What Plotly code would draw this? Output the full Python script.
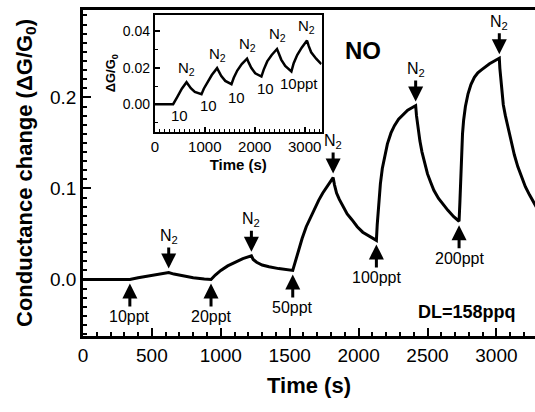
import numpy as np
import plotly.graph_objects as go

# ---- main trace (time s, conductance change) ----
time_main = [0, 340, 400, 480, 560, 622, 660, 720, 800, 880, 929,
             960, 1000, 1050, 1100, 1160, 1222, 1235, 1260, 1300, 1350, 1420, 1522,
             1540, 1560, 1590, 1620, 1650, 1680, 1710, 1740, 1770, 1800, 1815,
             1825, 1840, 1860, 1890, 1917, 1950, 1990, 2030, 2080, 2129,
             2135, 2145, 2158, 2172, 2190, 2209, 2235, 2260, 2290, 2320, 2356, 2390, 2414,
             2420, 2430, 2445, 2460, 2473, 2500, 2525, 2546, 2580, 2620, 2648, 2690, 2729,
             2735, 2742, 2748, 2754, 2762, 2775, 2794, 2815, 2840, 2865, 2889, 2920, 2950, 2985, 3021,
             3025, 3032, 3040, 3050, 3065, 3084, 3105, 3130, 3155, 3182, 3210, 3240, 3270, 3292]
cond_main = [0.0, 0.0, 0.002, 0.004, 0.006, 0.0077, 0.006, 0.004, 0.002, 0.0005, 0.0,
             0.005, 0.010, 0.015, 0.019, 0.023, 0.026, 0.022, 0.019, 0.016, 0.014, 0.012, 0.010,
             0.020, 0.031, 0.045, 0.058, 0.068, 0.078, 0.087, 0.095, 0.102, 0.108, 0.112,
             0.104, 0.095, 0.088, 0.079, 0.072, 0.066, 0.058, 0.052, 0.047, 0.043,
             0.060, 0.082, 0.105, 0.122, 0.137, 0.149, 0.161, 0.169, 0.176, 0.181, 0.186, 0.189, 0.191,
             0.180, 0.167, 0.152, 0.140, 0.131, 0.116, 0.106, 0.098, 0.089, 0.081, 0.076, 0.069, 0.064,
             0.085, 0.115, 0.140, 0.160, 0.175, 0.190, 0.204, 0.214, 0.222, 0.227, 0.230, 0.234, 0.237, 0.240, 0.243,
             0.232, 0.218, 0.204, 0.192, 0.180, 0.167, 0.152, 0.137, 0.124, 0.112, 0.102, 0.093, 0.085, 0.079]

ppt_times = [340, 929, 1522, 2129, 2729]
ppt_labels = ["10ppt", "20ppt", "50ppt", "100ppt", "200ppt"]
n2_times = [622, 1222, 1815, 2414, 3021]

# ---- inset trace ----
time_inset = [0, 366, 450, 540, 634, 670, 720, 800, 934, 980, 1050, 1140, 1246, 1280, 1330, 1410, 1534,
              1580, 1650, 1740, 1846, 1880, 1930, 2010, 2134, 2180, 2250, 2340, 2446, 2480, 2530, 2610, 2734,
              2780, 2850, 2940, 3046, 3080, 3130, 3230, 3334]
cond_inset = [0.0, 0.0, 0.004, 0.0085, 0.0121, 0.0105, 0.0088, 0.0068, 0.0055, 0.0085, 0.012, 0.016, 0.0198,
              0.0178, 0.0155, 0.0128, 0.011, 0.0145, 0.0185, 0.022, 0.025, 0.0228, 0.0200, 0.017, 0.0152,
              0.019, 0.0235, 0.027, 0.0303, 0.028, 0.0245, 0.021, 0.018, 0.0225, 0.027, 0.031, 0.0349,
              0.032, 0.0285, 0.025, 0.022]
inset_n2_times = [634, 1246, 1846, 2446, 3046]
inset_dose_labels = ["10", "10", "10", "10", "10ppt"]
inset_dose_times = [486, 1066, 1634, 2220, 2886]
inset_dose_vals = [-0.0059, -0.0009, 0.0036, 0.0088, 0.0116]

FONT = "Liberation Sans, Arial, sans-serif"

fig = go.Figure()
fig.add_trace(go.Scatter(x=time_main, y=cond_main, mode="lines",
                         line=dict(color="black", width=3), showlegend=False,
                         xaxis="x", yaxis="y"))
fig.add_trace(go.Scatter(x=time_inset, y=cond_inset, mode="lines",
                         line=dict(color="black", width=2.5), showlegend=False,
                         xaxis="x2", yaxis="y2"))

ann = []
for t, lab in zip(ppt_times, ppt_labels):
    v = float(np.interp(t, time_main, cond_main))
    ann.append(dict(x=t, y=v, xref="x", yref="y", text=lab, showarrow=True,
                    ax=0, ay=37, arrowhead=2, arrowsize=1, arrowwidth=3, standoff=4,
                    arrowcolor="black", font=dict(size=16, color="black", family=FONT)))
for t in n2_times:
    v = float(np.interp(t, time_main, cond_main))
    ann.append(dict(x=t, y=v, xref="x", yref="y", text="N<sub>2</sub>", showarrow=True,
                    ax=0, ay=-36, arrowhead=2, arrowsize=1, arrowwidth=3, standoff=4,
                    arrowcolor="black", font=dict(size=16, color="black", family=FONT)))
for t in inset_n2_times:
    v = float(np.interp(t, time_inset, cond_inset))
    ann.append(dict(x=t, y=v, xref="x2", yref="y2", text="N<sub>2</sub>", showarrow=False,
                    yshift=14, font=dict(size=15, color="black", family=FONT)))
for t, v, lab in zip(inset_dose_times, inset_dose_vals, inset_dose_labels):
    ann.append(dict(x=t, y=v, xref="x2", yref="y2", text=lab, showarrow=False,
                    font=dict(size=15, color="black", family=FONT)))
ann.append(dict(x=2030, y=0.252, xref="x", yref="y", text="<b>NO</b>", showarrow=False,
                font=dict(size=24, color="black", family=FONT)))
ann.append(dict(x=2790, y=-0.036, xref="x", yref="y", text="<b>DL=158ppq</b>", showarrow=False,
                font=dict(size=18, color="black", family=FONT)))

fig.update_layout(
    width=535, height=412,
    margin=dict(l=83, r=0, t=10, b=76),
    paper_bgcolor="white", plot_bgcolor="white",
    font=dict(family=FONT, color="black"),
    annotations=ann,
    xaxis=dict(range=[0, 3280], domain=[0, 1], tickmode="linear", tick0=0, dtick=500,
               ticks="inside", ticklen=8, tickwidth=2, tickcolor="black",
               minor=dict(ticks="inside", dtick=100, ticklen=4, tickwidth=1.5, tickcolor="black"),
               showline=True, linewidth=2.5, linecolor="black", mirror=True,
               showgrid=False, zeroline=False,
               tickfont=dict(size=19, family=FONT),
               title=dict(text="<b>Time (s)</b>", font=dict(size=22, family=FONT), standoff=14)),
    yaxis=dict(range=[-0.062, 0.296], domain=[0, 1], tickmode="linear", tick0=0, dtick=0.1,
               tickformat=".1f",
               ticks="inside", ticklen=8, tickwidth=2, tickcolor="black",
               minor=dict(ticks="inside", dtick=0.01, ticklen=4, tickwidth=1.5, tickcolor="black"),
               showline=True, linewidth=2.5, linecolor="black", mirror=False,
               showgrid=False, zeroline=False,
               tickfont=dict(size=19, family=FONT),
               title=dict(text="<b>Conductance change (ΔG/G<sub>0</sub>)</b>",
                          font=dict(size=22, family=FONT), standoff=12)),
    xaxis2=dict(range=[0, 3340], domain=[0.159, 0.528], anchor="y2", tickmode="linear", tick0=0, dtick=1000,
                ticks="inside", ticklen=5, tickwidth=1.5, tickcolor="black",
                minor=dict(ticks="inside", dtick=100, ticklen=3, tickwidth=1, tickcolor="black"),
                showline=True, linewidth=2, linecolor="black", mirror=True,
                showgrid=False, zeroline=False,
                tickfont=dict(size=15, family=FONT),
                title=dict(text="<b>Time (s)</b>", font=dict(size=15, family=FONT), standoff=6)),
    yaxis2=dict(range=[-0.015, 0.049], domain=[0.627, 0.985], anchor="x2", tickmode="linear", tick0=0, dtick=0.02,
                tickformat=".2f",
                ticks="inside", ticklen=5, tickwidth=1.5, tickcolor="black",
                minor=dict(ticks="inside", dtick=0.01, ticklen=3, tickwidth=1, tickcolor="black"),
                showline=True, linewidth=2, linecolor="black", mirror=True,
                showgrid=False, zeroline=False,
                tickfont=dict(size=14, family=FONT),
                title=dict(text="<b>ΔG/G<sub>0</sub></b>", font=dict(size=13, family=FONT), standoff=4)),
)

fig.write_html("out.html")
